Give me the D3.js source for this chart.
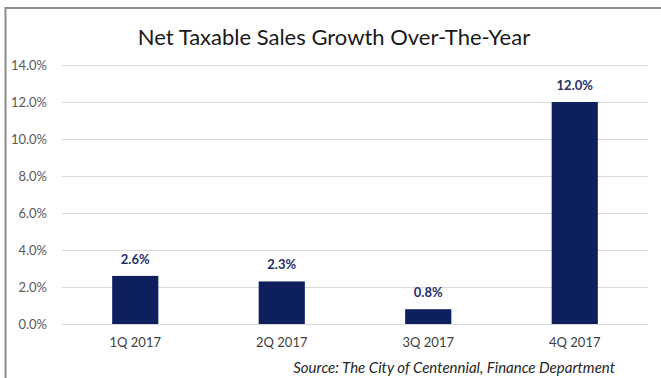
<!DOCTYPE html>
<html>
<head>
<meta charset="utf-8">
<script src="https://cdn.jsdelivr.net/npm/d3@7"></script>
<style>
  html, body { margin: 0; padding: 0; background: #fff; }
  svg { display: block; font-family: Lato, "Open Sans", sans-serif; }
</style>
</head>
<body>
<svg id="chart" width="661" height="378"></svg>
<script>
// Quarterly net taxable sales growth, percent over the year
const quarters = ["1Q 2017", "2Q 2017", "3Q 2017", "4Q 2017"];
const growth = [2.6, 2.3, 0.8, 12.0];
const yTicks = [0, 2, 4, 6, 8, 10, 12, 14];
const title = "Net Taxable Sales Growth Over-The-Year";
const source = "Source: The City of Centennial, Finance Department";

const svg = d3.select("#chart");
const W = 661, H = 378;
const plot = { left: 62, right: 648, top: 65, bottom: 324 };

// Frame lines along the top and left edges
svg.append("line").attr("x1", 5).attr("x2", W).attr("y1", 8).attr("y2", 8)
  .attr("stroke", "#8c8c8c").attr("stroke-width", 2);
svg.append("line").attr("x1", 5.5).attr("x2", 5.5).attr("y1", 7).attr("y2", H)
  .attr("stroke", "#8c8c8c").attr("stroke-width", 2);

svg.append("text")
  .attr("x", 334).attr("y", 45)
  .attr("text-anchor", "middle")
  .attr("font-size", 22)
  .attr("fill", "#1a1a1a")
  .text(title);

const x = d3.scaleBand().domain(quarters).range([plot.left, plot.right]).paddingInner(0.685).paddingOuter(0.3425);
const y = d3.scaleLinear().domain([0, 14]).range([plot.bottom, plot.top]);

// Horizontal gridlines with percent labels
const yAxis = d3.axisLeft(y).tickValues(yTicks)
  .tickSize(-(plot.right - plot.left))
  .tickPadding(15)
  .tickFormat(d => d.toFixed(1) + "%");
const gy = svg.append("g").attr("transform", `translate(${plot.left},0)`).call(yAxis);
gy.select(".domain").remove();
gy.selectAll(".tick line").attr("stroke", "#d9d9d9").attr("stroke-width", 1);
gy.selectAll(".tick text").attr("fill", "#595959").attr("font-size", 13).attr("font-family", "Lato, sans-serif");

// Bars
svg.append("g").selectAll("rect").data(quarters).join("rect")
  .attr("x", d => x(d))
  .attr("width", x.bandwidth())
  .attr("y", (d, i) => y(growth[i]))
  .attr("height", (d, i) => y(0) - y(growth[i]))
  .attr("fill", "#0d1f5c");

// Value labels above bars
svg.append("g").selectAll("text").data(quarters).join("text")
  .attr("x", d => x(d) + x.bandwidth() / 2)
  .attr("y", (d, i) => y(growth[i]) - 12)
  .attr("text-anchor", "middle")
  .attr("font-size", 13)
  .attr("font-weight", "bold")
  .attr("fill", "#1f2f66")
  .text((d, i) => growth[i].toFixed(1) + "%");

// Category axis
const xAxis = d3.axisBottom(x).tickSize(0).tickPadding(14);
const gx = svg.append("g").attr("transform", `translate(0,${plot.bottom})`).call(xAxis);
gx.select(".domain").remove();
gx.selectAll(".tick text").attr("fill", "#404040").attr("font-size", 13).attr("font-family", "Lato, sans-serif");

svg.append("text")
  .attr("x", 615).attr("y", 373)
  .attr("text-anchor", "end")
  .attr("font-size", 15)
  .attr("font-style", "italic")
  .attr("fill", "#262626")
  .text(source);
</script>
</body>
</html>
